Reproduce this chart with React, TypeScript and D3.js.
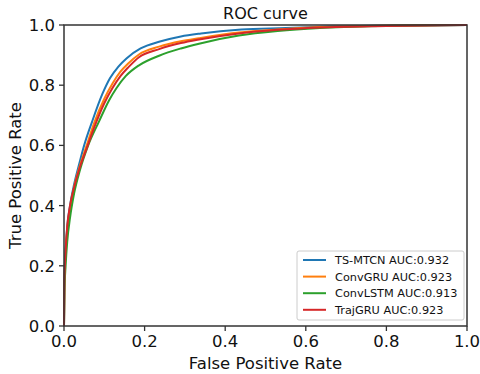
import React from 'react';
import * as d3 from 'd3';

const seriesNames = ['TS-MTCN AUC:0.932', 'ConvGRU AUC:0.923', 'ConvLSTM AUC:0.913', 'TrajGRU AUC:0.923'];
const seriesColors = ['#1f77b4', '#ff7f0e', '#2ca02c', '#d62728'];

const tsmtcnFpr = [0, 0.001, 0.004, 0.008, 0.015, 0.025, 0.04, 0.05, 0.07, 0.095, 0.114, 0.135, 0.155, 0.19, 0.238, 0.29, 0.34, 0.44, 0.55, 0.65, 0.8, 1];
const tsmtcnTpr = [0, 0.15, 0.25, 0.33, 0.4, 0.47, 0.55, 0.6, 0.68, 0.77, 0.823, 0.862, 0.889, 0.922, 0.945, 0.962, 0.972, 0.985, 0.99, 0.995, 0.998, 1];

const convgruFpr = [0, 0.001, 0.004, 0.008, 0.015, 0.025, 0.04, 0.055, 0.075, 0.1, 0.12, 0.14, 0.16, 0.186, 0.236, 0.29, 0.335, 0.434, 0.53, 0.635, 0.8, 1];
const convgruTpr = [0, 0.14, 0.24, 0.32, 0.39, 0.46, 0.535, 0.595, 0.675, 0.755, 0.805, 0.845, 0.873, 0.902, 0.928, 0.946, 0.956, 0.975, 0.985, 0.993, 0.998, 1];

const convlstmFpr = [0, 0.001, 0.004, 0.008, 0.015, 0.025, 0.04, 0.06, 0.087, 0.112, 0.13, 0.153, 0.186, 0.236, 0.29, 0.335, 0.434, 0.53, 0.635, 0.8, 1];
const convlstmTpr = [0, 0.11, 0.2, 0.28, 0.36, 0.44, 0.52, 0.6, 0.68, 0.75, 0.79, 0.83, 0.866, 0.898, 0.922, 0.938, 0.965, 0.98, 0.99, 0.997, 1];

const trajgruFpr = [0, 0.001, 0.004, 0.008, 0.015, 0.025, 0.04, 0.055, 0.075, 0.1, 0.12, 0.14, 0.16, 0.186, 0.236, 0.29, 0.335, 0.434, 0.53, 0.635, 0.8, 1];
const trajgruTpr = [0, 0.15, 0.25, 0.33, 0.4, 0.46, 0.53, 0.585, 0.66, 0.74, 0.79, 0.83, 0.86, 0.893, 0.92, 0.94, 0.952, 0.972, 0.984, 0.992, 0.997, 1];

const ticks = [0, 0.2, 0.4, 0.6, 0.8, 1.0];

const allFpr = [tsmtcnFpr, convgruFpr, convlstmFpr, trajgruFpr];
const allTpr = [tsmtcnTpr, convgruTpr, convlstmTpr, trajgruTpr];

const W = 480;
const H = 374;
const margin = { left: 64, right: 13, top: 25, bottom: 48 };
const font = '"DejaVu Sans", sans-serif';

export default function App() {
  const x = d3.scaleLinear().domain([0, 1]).range([margin.left, W - margin.right]);
  const y = d3.scaleLinear().domain([0, 1]).range([H - margin.bottom, margin.top]);
  const line = d3
    .line<[number, number]>()
    .x((d) => x(d[0]))
    .y((d) => y(d[1]))
    .curve(d3.curveMonotoneX);

  const legX = 297;
  const legY = 251;

  return (
    <svg width={W} height={H} style={{ position: 'absolute', left: 0, top: 0 }}>
      <rect width={W} height={H} fill="#fff" />
      <text x={(x(0) + x(1)) / 2} y={19} textAnchor="middle" fontFamily={font} fontSize={16} fill="#111">
        ROC curve
      </text>
      {allFpr.map((fpr, i) => (
        <path
          key={i}
          d={line(fpr.map((f, j) => [f, allTpr[i][j]] as [number, number])) || ''}
          fill="none"
          stroke={seriesColors[i]}
          strokeWidth={2}
        />
      ))}
      <rect
        x={x(0)}
        y={y(1)}
        width={x(1) - x(0)}
        height={y(0) - y(1)}
        fill="none"
        stroke="#333"
        strokeWidth={1.5}
      />
      {ticks.map((t) => (
        <g key={'x' + t}>
          <line x1={x(t)} x2={x(t)} y1={y(0)} y2={y(0) + 5} stroke="#333" strokeWidth={1.3} />
          <text x={x(t)} y={y(0) + 21} textAnchor="middle" fontFamily={font} fontSize={16.5} fill="#111">
            {t.toFixed(1)}
          </text>
          <line x1={x(0) - 5} x2={x(0)} y1={y(t)} y2={y(t)} stroke="#333" strokeWidth={1.3} />
          <text x={x(0) - 9} y={y(t) + 6} textAnchor="end" fontFamily={font} fontSize={16.5} fill="#111">
            {t.toFixed(1)}
          </text>
        </g>
      ))}
      <text x={(x(0) + x(1)) / 2} y={369} textAnchor="middle" fontFamily={font} fontSize={16.5} fill="#111">
        False Positive Rate
      </text>
      <text
        transform={`translate(21,${(y(0) + y(1)) / 2}) rotate(-90)`}
        textAnchor="middle"
        fontFamily={font}
        fontSize={16.5}
        fill="#111"
      >
        True Positive Rate
      </text>
      <rect x={legX} y={legY} width={167} height={69} rx={2} fill="#fff" fillOpacity={0.8} stroke="#ccc" strokeWidth={1} />
      {seriesNames.map((name, i) => (
        <g key={name}>
          <line x1={legX + 6} x2={legX + 29} y1={legY + 9 + i * 16.6} y2={legY + 9 + i * 16.6} stroke={seriesColors[i]} strokeWidth={2} />
          <text x={legX + 38} y={legY + 13 + i * 16.6} fontFamily={font} fontSize={11.3} fill="#111">
            {name}
          </text>
        </g>
      ))}
    </svg>
  );
}
